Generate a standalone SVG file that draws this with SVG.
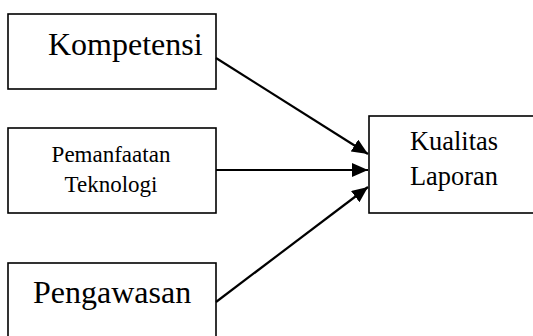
<svg xmlns="http://www.w3.org/2000/svg" width="533" height="336" viewBox="0 0 533 336">
<style>
.box{fill:#fff;stroke:#000;stroke-width:1.6}
.t{font-family:"Liberation Serif","Times New Roman",serif;fill:#000}
.c{stroke:#000;stroke-width:2.2;fill:none}
</style>
<defs>
<marker id="ah" markerUnits="userSpaceOnUse" markerWidth="18" markerHeight="14" refX="16" refY="7" orient="auto">
<path d="M0,0 L16,7 L0,14 Z" fill="#000"/>
</marker>
</defs>
<rect width="533" height="336" fill="#fff"/>
<g id="kompetensi">
<rect class="box" x="8" y="14" width="208" height="75"/>
<text class="t" x="48" y="55" font-size="32">Kompetensi</text>
</g>
<g id="pemanfaatan">
<rect class="box" x="8" y="128" width="208" height="85"/>
<text class="t" x="111" y="162" font-size="23" text-anchor="middle">Pemanfaatan</text>
<text class="t" x="111" y="192" font-size="23" text-anchor="middle">Teknologi</text>
</g>
<g id="pengawasan">
<rect class="box" x="8" y="263" width="208" height="90"/>
<text class="t" x="33" y="303" font-size="32">Pengawasan</text>
</g>
<g id="kualitas">
<rect class="box" x="369" y="116" width="180" height="97"/>
<text class="t" x="410" y="150" font-size="26.4">Kualitas</text>
<text class="t" x="410" y="185" font-size="26.4">Laporan</text>
</g>
<g id="connectors">
<line class="c" x1="216" y1="58" x2="368" y2="154" marker-end="url(#ah)"/>
<line class="c" x1="216" y1="170" x2="368" y2="170" marker-end="url(#ah)"/>
<line class="c" x1="216" y1="302" x2="368" y2="187" marker-end="url(#ah)"/>
</g>
</svg>
